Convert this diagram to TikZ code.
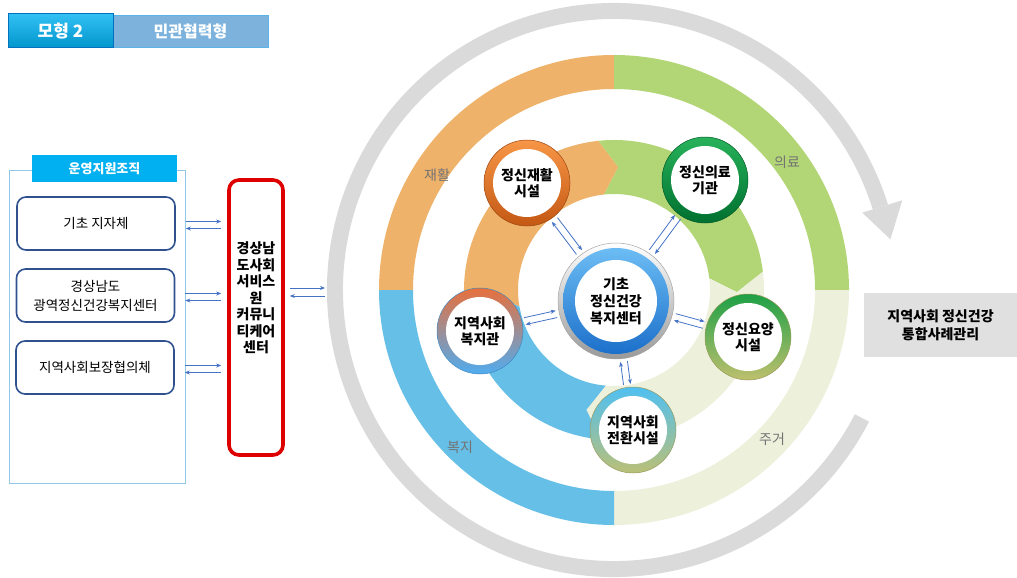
\documentclass[tikz,border=0pt]{standalone}
\usepackage{fontspec}
\setmainfont{Noto Sans CJK KR}
\usetikzlibrary{arrows.meta,calc,shadings}
\definecolor{ringgray}{RGB}{218,218,218}
\definecolor{cOr}{RGB}{238,178,106}
\definecolor{cGr}{RGB}{178,213,118}
\definecolor{cBe}{RGB}{237,241,220}
\definecolor{cBl}{RGB}{102,191,231}
\definecolor{arrblue}{RGB}{68,114,196}
\definecolor{navy}{RGB}{47,82,143}
\definecolor{cyanhd}{RGB}{0,176,240}
\definecolor{panelb}{RGB}{145,200,232}
\definecolor{redb}{RGB}{222,0,0}
\definecolor{tbox}{RGB}{125,178,221}
\definecolor{tboxb}{RGB}{90,180,230}
\definecolor{tone}{RGB}{0,176,240}
\definecolor{toneb}{RGB}{0,112,192}
\definecolor{rbox}{RGB}{224,224,224}
\definecolor{orT}{RGB}{247,150,70}
\definecolor{orB}{RGB}{196,88,20}
\definecolor{grT}{RGB}{40,178,90}
\definecolor{grB}{RGB}{0,112,48}
\definecolor{haT}{RGB}{232,112,60}
\definecolor{haB}{RGB}{80,172,240}
\definecolor{nuT}{RGB}{30,160,70}
\definecolor{nuB}{RGB}{190,192,110}
\definecolor{trT}{RGB}{80,192,242}
\definecolor{trB}{RGB}{186,192,118}
\definecolor{ceT}{RGB}{112,192,246}
\definecolor{ceB}{RGB}{24,108,200}
\newcommand\ringquad[3]{\fill[#1] (#2:235) arc[start angle=#2, end angle=#3, radius=235] -- (#3:201) arc[start angle=#3, end angle=#2, radius=201] -- cycle;}
\newcommand\ringseg[3]{\fill[#1] (#2:150) arc[start angle=#2, end angle=#3, radius=150] -- ({#3+8}:123) -- (#3:96) arc[start angle=#3, end angle=#2, radius=96] -- ({#2+8}:123) -- cycle;}
\tikzset{
  sarr/.style={draw=arrblue, line width=0.8pt, -{Stealth[length=5pt,width=4pt]}},
  lbox/.style={draw=navy, line width=1.6pt, rounded corners=9pt, fill=white, minimum width=158pt, minimum height=53pt, align=center, font=\fontsize{13.5}{19}\selectfont},
  sat/.style 2 args={circle, inner sep=0pt, minimum size=86pt, top color=#1, bottom color=#2, draw=#2!80!black, line width=0.5pt, path picture={\fill[white] (path picture bounding box.center) circle (34pt);}, align=center, font=\bfseries\fontsize{14}{16}\selectfont},
  seclbl/.style={text=black!55, font=\fontsize{14}{16}\selectfont},
}
\begin{document}
\begin{tikzpicture}[x=1pt,y=-1pt]
\useasboundingbox (0,0) rectangle (1017,578);
% title
\node[rectangle, minimum width=155pt, minimum height=32pt, fill=tbox, draw=tboxb, line width=0.8pt, text=white, font=\bfseries\fontsize{16}{18}\selectfont] (t2) at (190.5,31) {민관협력형};
\node[rectangle, minimum width=105pt, minimum height=34pt, top color=tone!80!white, bottom color=tone!85!black, draw=toneb, line width=1pt, text=white, font=\bfseries\fontsize{17}{19}\selectfont] (t1) at (60.5,31) {모형 2};
% left panel
\node[draw=panelb, line width=0.9pt, minimum width=176pt, minimum height=313pt] (panel) at (97,326.5) {};
\node[fill=cyanhd, minimum width=145pt, minimum height=27pt, text=white, font=\bfseries\fontsize{13}{15}\selectfont] (hd) at (104.5,168.5) {운영지원조직};
\node[lbox] (b1) at (96,223.5) {기초 지자체};
\node[lbox] (b2) at (95.5,295.5) {경상남도\\광역정신건강복지센터};
\node[lbox] (b3) at (95,367.5) {지역사회보장협의체};
% red box
\node[draw=redb, line width=3.6pt, rounded corners=10pt, fill=white, minimum width=54pt, minimum height=275pt] (red) at (256,317.5) {};
\node[align=center, font=\bfseries\fontsize{14}{16.5}\selectfont] (redtxt) at (256,298) {경상남\\도사회\\서비스\\원\\커뮤니\\티케어\\센터};
\foreach \b in {b1,b2,b3}{
  \draw[sarr, shorten <=10pt, shorten >=6pt] ([yshift=2pt]\b.east) -- ([yshift=2pt]\b.east -| red.west);
  \draw[sarr, shorten <=6pt, shorten >=10pt] ([yshift=-5pt]\b.east -| red.west) -- ([yshift=-5pt]\b.east);
}
\coordinate (ringL) at (325,292);
\draw[sarr, shorten <=5pt] ([yshift=4pt]ringL -| red.east) -- ([yshift=4pt]ringL);
\draw[sarr, shorten >=5pt] ([yshift=-4pt]ringL) -- ([yshift=-4pt]ringL -| red.east);
% rings
\begin{scope}[shift={(614,290)}]
  \draw[ringgray, line width=16pt] (27.3:279) arc[start angle=27.3, end angle=342.7, radius=279];
  \fill[ringgray] (342.7:260) -- (342.7:302) -- (349.6:281) -- cycle;
  \ringquad{cOr}{180}{270}
  \ringquad{cGr}{270}{360}
  \ringquad{cBe}{0}{90}
  \ringquad{cBl}{90}{180}
  \ringseg{cOr}{170}{264}
  \ringseg{cGr}{264}{353}
  \ringseg{cBe}{353}{455}
  \ringseg{cBl}{95}{170}
\end{scope}
\node[seclbl] (lr) at (437,175) {재활};
\node[seclbl] (lm) at (787,162) {의료};
\node[seclbl] (lw) at (460,447) {복지};
\node[seclbl] (lh) at (772,439) {주거};
% center and satellites
\node[circle, inner sep=0pt, minimum size=116pt, top color=white, bottom color=black!40, draw=black!35, line width=0.5pt,
  path picture={\shade[top color=ceT, bottom color=ceB] (path picture bounding box.center) circle (53pt);
                \fill[white] (path picture bounding box.center) circle (41pt);},
  align=center, font=\bfseries\fontsize{14}{17}\selectfont] (ctr) at (616,301) {기초\\정신건강\\복지센터};
\node[sat={orT}{orB}] (rehab) at (527,183) {정신재활\\시설};
\node[sat={grT}{grB}] (med) at (705,180) {정신의료\\기관};
\node[sat={haT}{haB}] (hall) at (480,331) {지역사회\\복지관};
\node[sat={nuT}{nuB}] (nurse) at (748,337) {정신요양\\시설};
\node[sat={trT}{trB}] (trans) at (633,430) {지역사회\\전환시설};
\foreach \s in {rehab,med,hall,nurse,trans}{
  \draw[sarr, shorten <=46pt, shorten >=61pt] ($(\s)!3.5pt!90:(ctr)$) -- ($(ctr)!3.5pt!-90:(\s)$);
  \draw[sarr, shorten <=61pt, shorten >=46pt] ($(ctr)!3.5pt!90:(\s)$) -- ($(\s)!3.5pt!-90:(ctr)$);
}
% right box
\node[fill=rbox, minimum width=153pt, minimum height=64pt, align=center, font=\bfseries\fontsize{14}{18}\selectfont] (case) at (940.5,325) {지역사회 정신건강\\통합사례관리};
\end{tikzpicture}
\end{document}
